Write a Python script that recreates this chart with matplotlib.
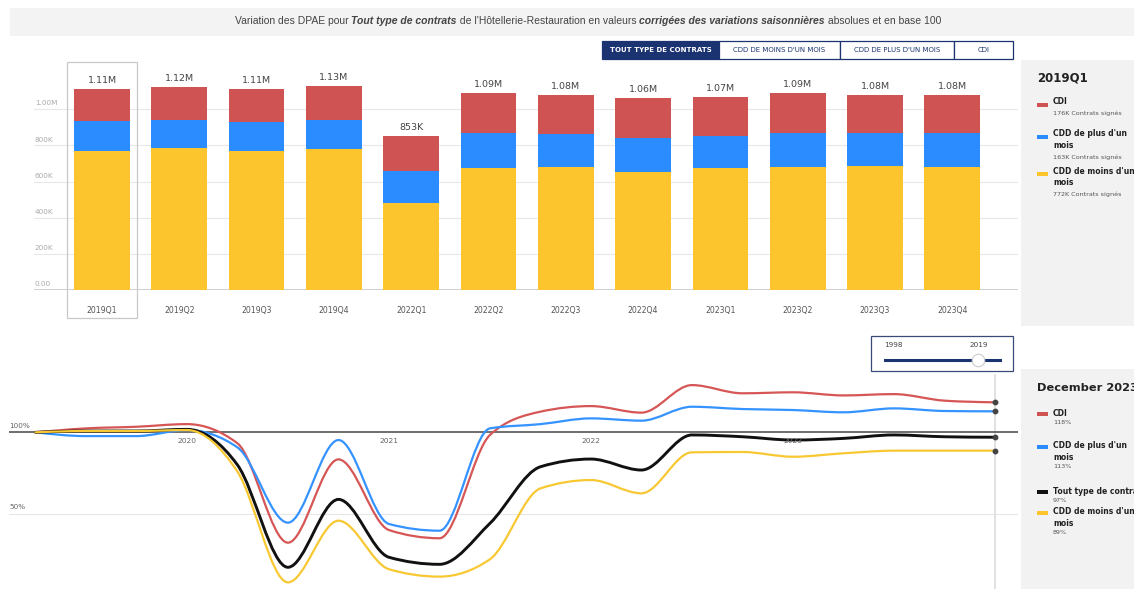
import numpy as np
import matplotlib
matplotlib.use('Agg')
import matplotlib.pyplot as plt
from matplotlib.path import Path
from matplotlib.patches import PathPatch, Rectangle
from matplotlib.lines import Line2D

# ---- data: top chart (thousands of contracts, CVS) ----
bar_quarters = ['2019Q1', '2019Q2', '2019Q3', '2019Q4', '2022Q1', '2022Q2',
                '2022Q3', '2022Q4', '2023Q1', '2023Q2', '2023Q3', '2023Q4']
cdd_moins = [772, 784, 769, 779, 481, 675, 679, 653, 675, 682, 686, 682]
cdd_plus = [163, 157, 163, 162, 176, 194, 184, 188, 179, 188, 184, 185]
cdi = [176, 181, 179, 189, 196, 221, 217, 219, 216, 220, 210, 213]
ytick_vals = [0, 200, 400, 600, 800, 1000]
ytick_labels = ['0.00', '200K', '400K', '600K', '800K', '1.00M']

# ---- data: bottom chart (base 100) ----
line_quarters = ['2019Q1', '2019Q2', '2019Q3', '2019Q4', '2020Q1', '2020Q2', '2020Q3',
                 '2020Q4', '2021Q1', '2021Q2', '2021Q3', '2021Q4', '2022Q1', '2022Q2',
                 '2022Q3', '2022Q4', '2023Q1', '2023Q2', '2023Q3', '2023Q4']
idx_cdi = [100, 102.4, 103.4, 105, 93.3, 32.7, 83.5, 40.4, 35.4, 98.4,
           112.6, 116, 112, 128.8, 123.8, 124.4, 122.5, 123.3, 119.3, 118.3]
idx_plus = [100, 97.7, 97.7, 101.4, 90.8, 44.9, 95.3, 44.1, 40, 102.4,
            105, 108.5, 107.1, 115.6, 114.2, 113.6, 112.2, 114.6, 113, 112.8]
idx_tout = [100, 100.8, 100.8, 101.8, 80.1, 17.7, 59.1, 23.8, 19.5, 44.5,
            79, 83.7, 77, 98.4, 97.3, 95.3, 96.3, 98.4, 97.3, 97]
idx_moins = [100, 100.8, 100.8, 101.4, 76, 8.5, 46.1, 16.5, 12, 22.6,
             65.8, 70.9, 62.8, 87.8, 88, 85.1, 87.2, 88.8, 88.8, 88.8]
year_ticks = [2020, 2021, 2022, 2023]

RED, BLUE, YELLOW = '#cf5353', '#2b8cff', '#fdc52d'
NAVY = '#1c3372'
W, H = 1134, 589

plt.rcParams['font.family'] = ['DejaVu Sans']
fig = plt.figure(figsize=(W / 100, H / 100), dpi=100)


def px_box(x0, y0, x1, y1):
    return [x0 / W, 1 - y1 / H, (x1 - x0) / W, (y1 - y0) / H]


def fig_rect(x0, y0, x1, y1, **kw):
    r = Rectangle((x0 / W, 1 - y1 / H), (x1 - x0) / W, (y1 - y0) / H,
                  transform=fig.transFigure, **kw)
    fig.add_artist(r)
    return r


def fig_text(x, y, s, **kw):
    kw.setdefault('va', 'center')
    return fig.text(x / W, 1 - y / H, s, **kw)


def fmt_total(t):
    return f'{t / 1000:.2f}M' if t >= 1000 else f'{t}K'


def quarter_end(q):
    return int(q[:4]) + int(q[-1]) * 0.25


def smooth_path(x, y):
    # monotone cubic drawn as bezier segments
    x, y = np.asarray(x, float), np.asarray(y, float)
    h = np.diff(x)
    s = np.diff(y) / h
    m = np.zeros_like(y)
    for i in range(1, len(x) - 1):
        p = (s[i - 1] * h[i] + s[i] * h[i - 1]) / (h[i - 1] + h[i])
        m[i] = (np.sign(s[i - 1]) + np.sign(s[i])) * min(abs(s[i - 1]), abs(s[i]), 0.5 * abs(p))
    m[0] = (3 * s[0] - m[1]) / 2
    m[-1] = (3 * s[-1] - m[-2]) / 2
    verts = [(x[0], y[0])]
    codes = [Path.MOVETO]
    for i in range(len(x) - 1):
        d = h[i] / 3
        verts += [(x[i] + d, y[i] + m[i] * d), (x[i + 1] - d, y[i + 1] - m[i + 1] * d),
                  (x[i + 1], y[i + 1])]
        codes += [Path.CURVE4] * 3
    return Path(verts, codes)


# ---- title band ----
fig_rect(10, 8, 1134, 36, facecolor='#f3f3f3', edgecolor='none', zorder=0)
pieces = [("Variation des DPAE pour ", 'normal', 'normal'),
          ("Tout type de contrats", 'bold', 'italic'),
          (" de l'Hôtellerie-Restauration en valeurs ", 'normal', 'normal'),
          ("corrigées des variations saisonnières", 'bold', 'italic'),
          (" absolues et en base 100", 'normal', 'normal')]
renderer = fig.canvas.get_renderer()
tparts = []
for s, wgt, sty in pieces:
    t = fig_text(0, 21, s, fontsize=7.5, family='Liberation Sans', weight=wgt,
                 style=sty, color='#444444', ha='left')
    tparts.append(t)
widths = [t.get_window_extent(renderer).width for t in tparts]
xpos = 588 - sum(widths) / 2
for t, w in zip(tparts, widths):
    t.set_x(xpos / W)
    xpos += w

# ---- buttons ----
btns = [('TOUT TYPE DE CONTRATS', 602, 719), ("CDD DE MOINS D'UN MOIS", 719, 840),
        ("CDD DE PLUS D'UN MOIS", 840, 954), ('CDI', 954, 1013)]
for i, (lab, x0, x1) in enumerate(btns):
    active = i == 0
    fig_rect(x0, 41, x1, 59, facecolor=NAVY if active else 'white',
             edgecolor=NAVY, lw=0.9)
    fig_text((x0 + x1) / 2, 50, lab, fontsize=5, ha='center',
             color='white' if active else NAVY, weight='bold' if active else 'normal')

# ---- top chart ----
ax = fig.add_axes(px_box(34, 62, 1018, 290))
xb = np.arange(len(bar_quarters))
b1 = np.array(cdd_moins)
b2 = np.array(cdd_plus)
b3 = np.array(cdi)
ax.bar(xb, b1, width=0.72, color=YELLOW, zorder=2)
ax.bar(xb, b2, width=0.72, bottom=b1, color=BLUE, zorder=2)
ax.bar(xb, b3, width=0.72, bottom=b1 + b2, color=RED, zorder=2)
totals = b1 + b2 + b3
for i, t in enumerate(totals):
    ax.annotate(fmt_total(int(t)), (i, t), xytext=(0, 3), textcoords='offset points',
                ha='center', va='bottom', fontsize=6.8, color='#444444')
    ax.text(i, -111, bar_quarters[i], ha='center', va='center', fontsize=5.6,
            color='#555555', clip_on=False)
for v, lab in zip(ytick_vals, ytick_labels):
    ax.axhline(v, color='#cccccc' if v == 0 else '#e8e8e8', lw=1.3 if v == 0 else 0.8, zorder=1)
    ax.text(-0.87, v + 16, lab, ha='left', va='bottom', fontsize=5.2, color='#aaaaaa')
ax.set_xlim(-0.88, 11.85)
ax.set_ylim(0, 1262)
ax.axis('off')
ax.add_patch(Rectangle((-0.453, -155), 0.906, 1417, facecolor='none', edgecolor='#c8c8c8',
                       lw=0.9, clip_on=False, zorder=3))

# ---- top legend panel ----
fig_rect(1021, 60, 1134, 326, facecolor='#f2f2f2', edgecolor='none')
fig_text(1037, 78, bar_quarters[0], fontsize=8.5, weight='bold', color='#222222')
leg_top = [(RED, ['CDI'], cdi[0], 102),
           (BLUE, ["CDD de plus d'un", 'mois'], cdd_plus[0], 134),
           (YELLOW, ["CDD de moins d'un", 'mois'], cdd_moins[0], 171)]
for col, lines, val, y in leg_top:
    fig_rect(1037, y + 1, 1048, y + 5, facecolor=col, edgecolor='none')
    for j, ln in enumerate(lines):
        fig_text(1053, y + 12 * j, ln, fontsize=5.5, weight='bold', color='#222222')
    fig_text(1053, y + 12 * len(lines) - 1, f'{val}K Contrats signés', fontsize=4.6,
             color='#555555')

# ---- bottom chart ----
ax2 = fig.add_axes(px_box(9, 340, 1018, 589))
xd = [quarter_end(q) for q in line_quarters]
ax2.axhline(50, color='#e6e6e6', lw=0.8, zorder=1)
ax2.axhline(100, color='#555555', lw=1.2, zorder=2)
ax2.axvline(xd[-1], ymin=0, ymax=0.859, color='#dddddd', lw=1.2, zorder=1)
series = [(idx_cdi, '#d65656', 1.6), (idx_plus, '#3593ff', 1.6),
          (idx_tout, '#111111', 2.1), (idx_moins, '#f8c833', 1.6)]
for vals, col, lw in series:
    ax2.add_patch(PathPatch(smooth_path(xd, vals), facecolor='none', edgecolor=col,
                            lw=lw, zorder=3, capstyle='round'))
    ax2.plot([xd[-1]], [vals[-1]], 'o', color='#444444', ms=3.2, zorder=4)
for yr in year_ticks:
    ax2.text(yr, 94.7, str(yr), ha='center', va='center', fontsize=5.4, color='#666666')
ax2.text(2019.12, 103.8, '100%', ha='left', va='center', fontsize=5.2, color='#666666')
ax2.text(2019.12, 54.4, '50%', ha='left', va='center', fontsize=5.2, color='#666666')
ax2.set_xlim(2019.119, 2024.114)
ax2.set_ylim(4.45, 156.3)
ax2.axis('off')

# ---- slider ----
fig_rect(871, 336, 1013, 371, facecolor='white', edgecolor='#3a4a78', lw=0.9, zorder=5)
fig_text(893, 345, '1998', fontsize=5.2, ha='center', color='#444444', zorder=6)
fig_text(979, 345, '2019', fontsize=5.2, ha='center', color='#444444', zorder=6)
fig.add_artist(Line2D([885 / W, 1000 / W], [1 - 360 / H, 1 - 360 / H], color=NAVY, lw=2.2,
                      transform=fig.transFigure, zorder=6))
fig.add_artist(Line2D([978 / W], [1 - 360 / H], marker='o', ms=9, mfc='white', mec='#cccccc',
                      mew=0.8, transform=fig.transFigure, zorder=7))

# ---- bottom legend panel ----
fig_rect(1021, 369, 1134, 589, facecolor='#f2f2f2', edgecolor='none')
fig_text(1037, 388, 'December 2023', fontsize=8.2, weight='bold', color='#222222')
leg_bot = [(RED, ['CDI'], idx_cdi[-1], 413),
           (BLUE, ["CDD de plus d'un", 'mois'], idx_plus[-1], 446),
           ('#111111', ['Tout type de contrats'], idx_tout[-1], 491),
           (YELLOW, ["CDD de moins d'un", 'mois'], idx_moins[-1], 512)]
for col, lines, val, y in leg_bot:
    fig_rect(1037, y - 1, 1048, y + 3, facecolor=col, edgecolor='none')
    for j, ln in enumerate(lines):
        fig_text(1053, y + 11.5 * j, ln, fontsize=5.5, weight='bold', color='#222222')
    fig_text(1053, y + 11.5 * len(lines) - 2.5, f'{round(val)}%', fontsize=4.6, color='#555555')

fig.savefig('out.png', dpi=100)
